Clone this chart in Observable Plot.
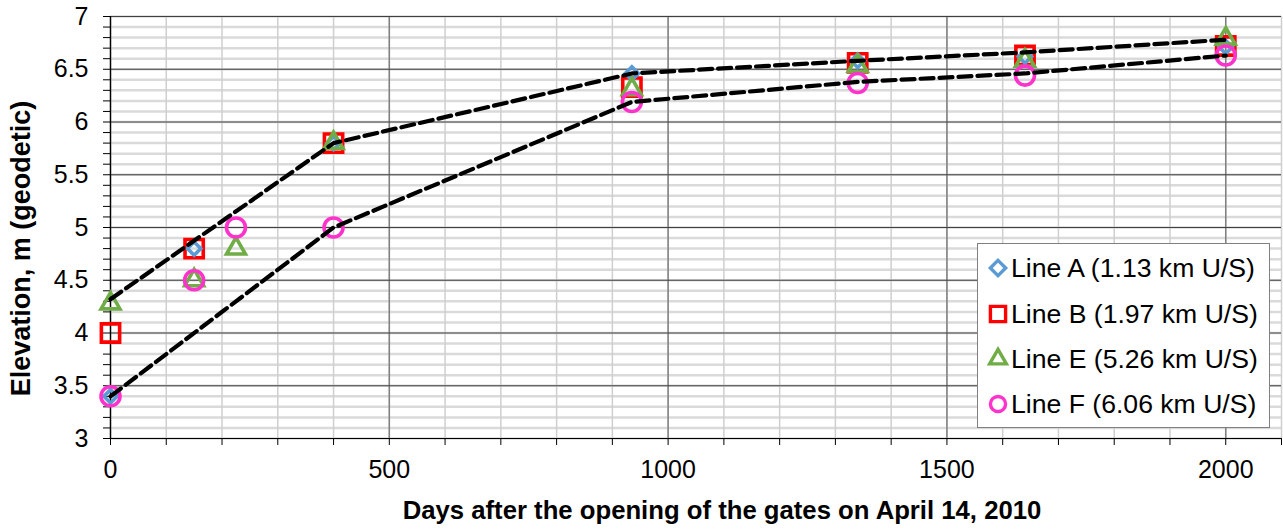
<!DOCTYPE html>
<html><head><meta charset="utf-8">
<script src="https://cdn.jsdelivr.net/npm/d3@7"></script>
<script src="https://cdn.jsdelivr.net/npm/@observablehq/plot@0.6"></script>
<style>
body{margin:0;background:#fff;font-family:"Liberation Sans",Arial,sans-serif;}
#wrap{position:relative;width:1283px;height:531px;}
#legend{position:absolute;left:977px;top:243px;width:293px;height:185px;border:1px solid #808080;background:#fff;box-sizing:border-box;}
.row{position:absolute;left:0;height:32px;display:flex;align-items:center;font-size:26.6px;color:#000;white-space:nowrap;}
.row svg{display:block;}
</style></head><body><div id="wrap"></div>
<script>
// ---- data ----
const seriesNames = ["Line A (1.13 km U/S)", "Line B (1.97 km U/S)", "Line E (5.26 km U/S)", "Line F (6.06 km U/S)"];
const seriesColors = ["#5b9bd5", "#ff0000", "#70ad47", "#ff33cc"];
const seriesSymbols = ["diamond2", "square", "triangle2", "circle"];

const lineADays = [0, 150, 400, 935, 1340, 1640, 2000];
const lineAElev = [3.4, 4.8, 5.8, 6.46, 6.58, 6.62, 6.71];
const lineBDays = [0, 150, 400, 935, 1340, 1640, 2000];
const lineBElev = [4.0, 4.8, 5.8, 6.33, 6.56, 6.63, 6.72];
const lineEDays = [0, 150, 225, 400, 935, 1340, 1640, 2000];
const lineEElev = [4.28, 4.5, 4.8, 5.8, 6.31, 6.53, 6.58, 6.79];
const lineFDays = [0, 150, 225, 400, 935, 1340, 1640, 2000];
const lineFElev = [3.4, 4.5, 5.0, 5.0, 6.19, 6.37, 6.44, 6.63];

const upperTrendDays = [0, 400, 935, 1340, 1640, 2000];
const upperTrendElev = [4.32, 5.8, 6.46, 6.58, 6.66, 6.78];
const lowerTrendDays = [0, 400, 935, 1340, 1640, 2000];
const lowerTrendElev = [3.4, 5.0, 6.19, 6.38, 6.46, 6.63];

const xMajorTicks = [0, 500, 1000, 1500, 2000];
const yMajorTicks = [3, 3.5, 4, 4.5, 5, 5.5, 6, 6.5, 7];
const xTitle = "Days after the opening of the gates on April 14, 2010";
const yTitle = "Elevation, m (geodetic)";

// ---- build ----
const zip = (xs, ys) => xs.map((x, i) => ({x, y: ys[i]}));
const series = [
  zip(lineADays, lineAElev), zip(lineBDays, lineBElev),
  zip(lineEDays, lineEElev), zip(lineFDays, lineFElev)
];
const radii = [6, 10.3, 9, 9.5];
const xMinor = d3.range(0, 2101, 100);
const yMinor = d3.range(30, 71, 1).map(v => v / 10);

const dotMarks = [1, 0, 2, 3].map(i => Plot.dot(series[i], {
  x: "x", y: "y", symbol: seriesSymbols[i], r: radii[i],
  stroke: seriesColors[i], strokeWidth: 3.6, fill: "none"
}));

const chart = Plot.plot({
  width: 1283, height: 531,
  marginLeft: 110, marginRight: 2, marginTop: 16, marginBottom: 93,
  x: {domain: [0, 2100]},
  y: {domain: [3, 7]},
  style: {fontFamily: "'Liberation Sans', Arial, sans-serif", fontSize: "25px", color: "#000", background: "#fff", overflow: "visible"},
  marks: [
    Plot.ruleY(yMinor, {stroke: "#dadada", strokeWidth: 2.5}),
    Plot.ruleX(xMinor, {stroke: "#cfcfcf", strokeWidth: 1.5}),
    Plot.ruleX(xMajorTicks, {stroke: "#808080", strokeWidth: 1.5}),
    Plot.ruleY(yMajorTicks, {stroke: "#404040", strokeWidth: 1.2}),
    Plot.axisY({ticks: yMinor, tickSize: 7, tickFormat: () => "", stroke: "#000", label: null}),
    Plot.axisY({ticks: yMajorTicks, tickSize: 0, tickPadding: 22, tickFormat: d => String(d), label: null}),
    Plot.axisX({ticks: xMinor, tickSize: 7, tickFormat: () => "", stroke: "#000", label: null}),
    Plot.axisX({ticks: xMajorTicks, tickSize: 0, tickPadding: 22, tickFormat: d => String(d), label: null}),
    Plot.ruleX([0], {stroke: "#000", strokeWidth: 1.2}),
    Plot.ruleY([3], {stroke: "#000", strokeWidth: 1.2}),
    ...dotMarks,
    Plot.line(zip(upperTrendDays, upperTrendElev), {x: "x", y: "y", stroke: "#000", strokeWidth: 4.2, strokeDasharray: "13,6"}),
    Plot.line(zip(lowerTrendDays, lowerTrendElev), {x: "x", y: "y", stroke: "#000", strokeWidth: 4.2, strokeDasharray: "13,6"}),
    Plot.text([xTitle], {frameAnchor: "bottom", dy: 72, dx: 26, text: d => d, fontWeight: "bold", fontSize: 25.7, lineAnchor: "middle", textAnchor: "middle"}),
    Plot.text([yTitle], {frameAnchor: "left", dx: -89, dy: 21, rotate: -90, text: d => d, fontWeight: "bold", fontSize: 27, lineAnchor: "middle", textAnchor: "middle"})
  ]
});
const wrap = document.getElementById("wrap");
wrap.appendChild(chart);

// ---- legend ----
const legend = document.createElement("div");
legend.id = "legend";
const rowCenters = [24, 70, 115, 160];
const legendSizes = [150, 230, 200, 180];
seriesNames.forEach((name, i) => {
  const row = document.createElement("div");
  row.className = "row";
  row.style.top = (rowCenters[i] - 16) + "px";
  const svg = d3.create("svg").attr("width", 33).attr("height", 32);
  const sym = {diamond2: d3.symbolDiamond2, square: d3.symbolSquare, triangle2: d3.symbolTriangle2, circle: d3.symbolCircle}[seriesSymbols[i]];
  svg.append("path").attr("transform", "translate(20,16)")
    .attr("d", d3.symbol(sym, legendSizes[i])())
    .attr("fill", "none").attr("stroke", seriesColors[i]).attr("stroke-width", 3.4);
  row.appendChild(svg.node());
  const span = document.createElement("span");
  span.textContent = name;
  row.appendChild(span);
  legend.appendChild(row);
});
wrap.appendChild(legend);
</script>
</body></html>
